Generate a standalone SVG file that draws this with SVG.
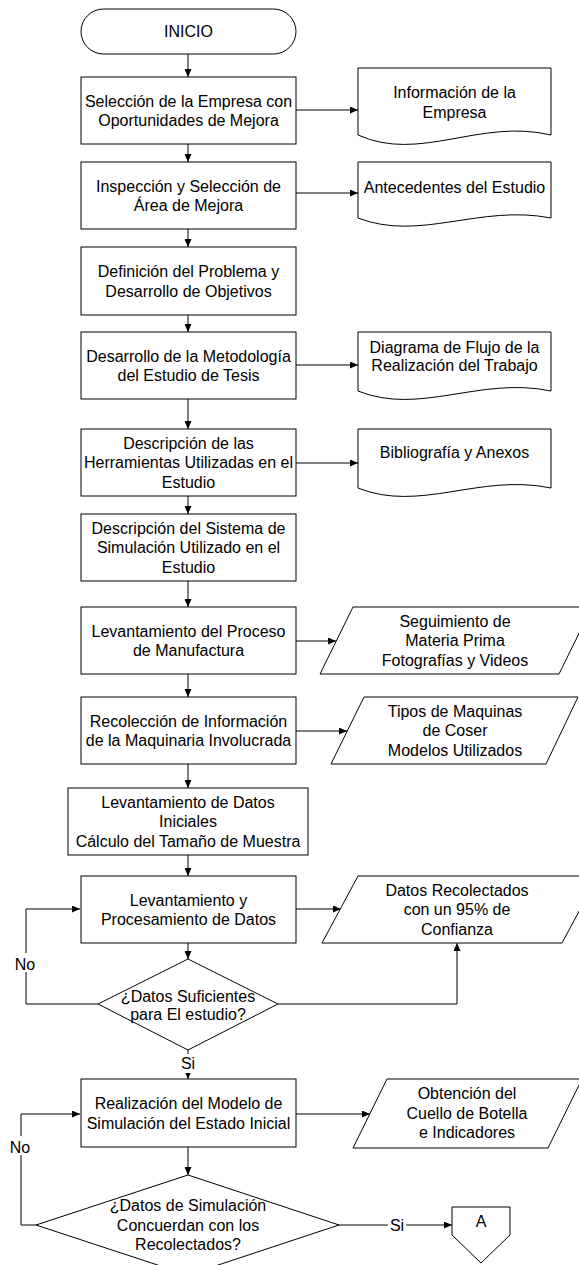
<svg xmlns="http://www.w3.org/2000/svg" width="579" height="1265" viewBox="0 0 579 1265">
<defs>
<style>
.s{fill:#fff;stroke:#000;stroke-width:1}
.t{font-family:"Liberation Sans",Arial,sans-serif;font-size:16px;fill:#000;text-anchor:middle}
.c{fill:none;stroke:#000;stroke-width:1}
.bg{fill:#fff;stroke:none}
</style>
<marker id="ah" markerWidth="8" markerHeight="7" refX="8" refY="3.5" orient="auto" markerUnits="userSpaceOnUse">
<path d="M0,0 L8,3.5 L0,7 Z" fill="#000"/>
</marker>
</defs>
<rect width="579" height="1265" fill="#fff"/>
<g id="connectors">
<path class="c" d="M188,54 V77" marker-end="url(#ah)"/>
<path class="c" d="M188,144 V162" marker-end="url(#ah)"/>
<path class="c" d="M188,229 V247" marker-end="url(#ah)"/>
<path class="c" d="M188,315 V332" marker-end="url(#ah)"/>
<path class="c" d="M188,399 V429" marker-end="url(#ah)"/>
<path class="c" d="M188,496 V514" marker-end="url(#ah)"/>
<path class="c" d="M188,581 V607" marker-end="url(#ah)"/>
<path class="c" d="M188,674 V697" marker-end="url(#ah)"/>
<path class="c" d="M188,764 V788" marker-end="url(#ah)"/>
<path class="c" d="M188,855 V876" marker-end="url(#ah)"/>
<path class="c" d="M188,943 V959" marker-end="url(#ah)"/>
<path class="c" d="M188,1050 V1079" marker-end="url(#ah)"/>
<path class="c" d="M188,1147 V1175" marker-end="url(#ah)"/>
<path class="c" d="M296,110 H358" marker-end="url(#ah)"/>
<path class="c" d="M296,193 H358" marker-end="url(#ah)"/>
<path class="c" d="M296,365 H358" marker-end="url(#ah)"/>
<path class="c" d="M296,463 H358" marker-end="url(#ah)"/>
<path class="c" d="M296,641 H336" marker-end="url(#ah)"/>
<path class="c" d="M296,731 H347" marker-end="url(#ah)"/>
<path class="c" d="M296,909 H341" marker-end="url(#ah)"/>
<path class="c" d="M98,1004 H26 V909 H80" marker-end="url(#ah)"/>
<path class="c" d="M278,1004 H457 V943" marker-end="url(#ah)"/>
<path class="c" d="M296,1114 H370" marker-end="url(#ah)"/>
<path class="c" d="M36,1225 H21 V1114 H80" marker-end="url(#ah)"/>
<path class="c" d="M339,1225 H452" marker-end="url(#ah)"/>
<rect class="bg" x="14" y="953" width="24" height="19"/>
<text class="t" x="25" y="970">No</text>
<rect class="bg" x="179" y="1054" width="18" height="19"/>
<text class="t" x="188" y="1069">Si</text>
<rect class="bg" x="9" y="1136" width="24" height="19"/>
<text class="t" x="20" y="1153">No</text>
<rect class="bg" x="388" y="1216" width="18" height="19"/>
<text class="t" x="397" y="1231">Si</text>
</g>
<g id="inicio">
<rect class="s" x="81" y="9" width="215" height="45" rx="22.5" ry="22.5"/>
<text class="t" x="188.5" y="37">INICIO</text>
</g>
<g id="box1">
<rect class="s" x="81" y="77" width="215" height="67"/>
<text class="t" x="188.5" y="106.5">Selección de la Empresa con</text>
<text class="t" x="188.5" y="126">Oportunidades de Mejora</text>
</g>
<g id="doc1">
<path class="s" d="M358,68 H551 V135 C480,118 420,163 358,135 Z"/>
<text class="t" x="454.5" y="98">Información de la</text>
<text class="t" x="454.5" y="118">Empresa</text>
</g>
<g id="box2">
<rect class="s" x="81" y="162" width="215" height="67"/>
<text class="t" x="188.5" y="191.5">Inspección y Selección de</text>
<text class="t" x="188.5" y="211">Área de Mejora</text>
</g>
<g id="doc2">
<path class="s" d="M358,162 H551 V218 C480,204 420,242 358,218 Z"/>
<text class="t" x="454.5" y="193">Antecedentes del Estudio</text>
</g>
<g id="box3">
<rect class="s" x="81" y="247" width="215" height="68"/>
<text class="t" x="188.5" y="277">Definición del Problema y</text>
<text class="t" x="188.5" y="296.5">Desarrollo de Objetivos</text>
</g>
<g id="box4">
<rect class="s" x="81" y="332" width="215" height="67"/>
<text class="t" x="188.5" y="361.5">Desarrollo de la Metodología</text>
<text class="t" x="188.5" y="381">del Estudio de Tesis</text>
</g>
<g id="doc3">
<path class="s" d="M358,332 H551 V391 C480,376 420,416 358,391 Z"/>
<text class="t" x="454.5" y="353">Diagrama de Flujo de la</text>
<text class="t" x="454.5" y="371">Realización del Trabajo</text>
</g>
<g id="box5">
<rect class="s" x="81" y="429" width="215" height="67"/>
<text class="t" x="188.5" y="448.7">Descripción de las</text>
<text class="t" x="188.5" y="468.2">Herramientas Utilizadas en el</text>
<text class="t" x="188.5" y="487.7">Estudio</text>
</g>
<g id="doc4">
<path class="s" d="M358,429 H551 V488 C480,473 420,513 358,488 Z"/>
<text class="t" x="454.5" y="458">Bibliografía y Anexos</text>
</g>
<g id="box6">
<rect class="s" x="81" y="514" width="215" height="67"/>
<text class="t" x="188.5" y="533.7">Descripción del Sistema de</text>
<text class="t" x="188.5" y="553.2">Simulación Utilizado en el</text>
<text class="t" x="188.5" y="572.7">Estudio</text>
</g>
<g id="box7">
<rect class="s" x="81" y="607" width="215" height="67"/>
<text class="t" x="188.5" y="636.5">Levantamiento del Proceso</text>
<text class="t" x="188.5" y="656">de Manufactura</text>
</g>
<g id="para1">
<path class="s" d="M353,607 H592 L559,674 H320 Z"/>
<text class="t" x="455" y="626.7">Seguimiento de</text>
<text class="t" x="455" y="646.2">Materia Prima</text>
<text class="t" x="455" y="665.7">Fotografías y Videos</text>
</g>
<g id="box8">
<rect class="s" x="81" y="697" width="215" height="67"/>
<text class="t" x="188.5" y="726.5">Recolección de Información</text>
<text class="t" x="188.5" y="746">de la Maquinaria Involucrada</text>
</g>
<g id="para2">
<path class="s" d="M364,697 H578 L546,764 H331 Z"/>
<text class="t" x="455" y="716.7">Tipos de Maquinas</text>
<text class="t" x="455" y="736.2">de Coser</text>
<text class="t" x="455" y="755.7">Modelos Utilizados</text>
</g>
<g id="box9">
<rect class="s" x="68" y="788" width="240" height="67"/>
<text class="t" x="188" y="807.7">Levantamiento de Datos</text>
<text class="t" x="188" y="827.2">Iniciales</text>
<text class="t" x="188" y="846.7">Cálculo del Tamaño de Muestra</text>
</g>
<g id="box10">
<rect class="s" x="81" y="876" width="215" height="67"/>
<text class="t" x="188.5" y="905.5">Levantamiento y</text>
<text class="t" x="188.5" y="925">Procesamiento de Datos</text>
</g>
<g id="para3">
<path class="s" d="M358,876 H598 L562,943 H322 Z"/>
<text class="t" x="457" y="895.7">Datos Recolectados</text>
<text class="t" x="457" y="915.2">con un 95% de</text>
<text class="t" x="457" y="934.7">Confianza</text>
</g>
<g id="decision1">
<path class="s" d="M188,959 L278,1004 L188,1050 L98,1004 Z"/>
<text class="t" x="188" y="1002">¿Datos Suficientes</text>
<text class="t" x="188" y="1019.5">para El estudio?</text>
</g>
<g id="box11">
<rect class="s" x="81" y="1079" width="215" height="68"/>
<text class="t" x="188.5" y="1109">Realización del Modelo de</text>
<text class="t" x="188.5" y="1128.5">Simulación del Estado Inicial</text>
</g>
<g id="para4">
<path class="s" d="M387,1079 H582 L548,1148 H353 Z"/>
<text class="t" x="467" y="1099.2">Obtención del</text>
<text class="t" x="467" y="1118.7">Cuello de Botella</text>
<text class="t" x="467" y="1138.2">e Indicadores</text>
</g>
<g id="decision2">
<path class="s" d="M188,1175 L339,1225 L188,1275 L36,1225 Z"/>
<text class="t" x="188" y="1211.2">¿Datos de Simulación</text>
<text class="t" x="188" y="1230.7">Concuerdan con los</text>
<text class="t" x="188" y="1250.2">Recolectados?</text>
</g>
<g id="connectorA">
<path class="s" d="M452,1207 H510 V1235 L481,1263 L452,1235 Z"/>
<text class="t" x="481" y="1227">A</text>
</g>
</svg>
